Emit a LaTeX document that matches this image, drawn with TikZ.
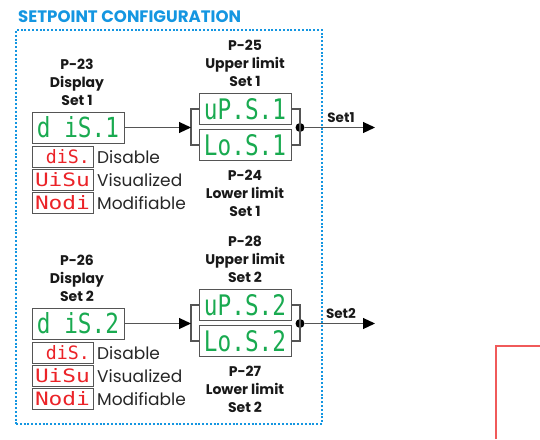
\documentclass[tikz,border=0pt]{standalone}
\usepackage{fontspec}
\setmainfont{Poppins}
\newfontfamily\dispfont{DejaVu Sans Mono}
\usetikzlibrary{arrows.meta}
\definecolor{tblue}{RGB}{20,150,225}
\definecolor{sgreen}{RGB}{25,170,80}
\definecolor{sred}{RGB}{235,35,40}
\definecolor{lred}{RGB}{240,90,90}
\definecolor{lgray}{RGB}{85,85,85}
\tikzset{
  gdisp/.style={draw=lgray, line width=1pt, minimum width=92pt, minimum height=31pt, inner sep=0pt, text=sgreen},
  rdisp/.style={draw=lgray, line width=1pt, minimum width=61pt, minimum height=21pt, inner sep=0pt, text=sred},
  blabel/.style={align=center, font=\bfseries\fontsize{14}{18}\selectfont, text=black!90},
  rlabel/.style={anchor=west, font=\fontsize{17}{18}\selectfont, text=black!85, inner sep=0pt},
  conn/.style={draw=lgray, line width=1.1pt},
  arr/.style={conn, -{Triangle[length=12pt,width=11pt,fill=black,color=black]}},
}
\newcommand{\gtxt}[1]{\resizebox{82pt}{21pt}{\dispfont #1}}
\newcommand{\rtxt}[1]{\resizebox{55pt}{14pt}{\dispfont #1}}
\begin{document}
\begin{tikzpicture}[x=1pt,y=-1pt]
\useasboundingbox (0,0) rectangle (540,439);
\node[anchor=west, inner sep=0pt, text=tblue, font=\bfseries\fontsize{16.6}{18}\selectfont] (title) at (18,17) {SETPOINT CONFIGURATION};
\node[draw=tblue, line width=2pt, dash pattern=on 2pt off 1.8pt, minimum width=306pt, minimum height=394pt, inner sep=0pt] (frame) at (169,227) {};

\foreach \o/\s/\pa/\pb/\pc in {0/1/23/25/24, 196/2/26/28/27}{
  \begin{scope}[yshift=-\o pt]
  \node[blabel] (lab\s) at (77,82) {P-\pa\\Display\\Set \s};
  \node[gdisp] (d\s) at (78,127.5) {\gtxt{d iS.\s}};
  \node[rdisp] (r1\s) at (62.5,156.5) {\rtxt{\phantom{d}diS.}};
  \node[rdisp] (r2\s) at (62.5,179.5) {\rtxt{UiSu}};
  \node[rdisp] (r3\s) at (62.5,203) {\rtxt{Nodi}};
  \node[rlabel] (t1\s) at (97,157) {Disable};
  \node[rlabel] (t2\s) at (97,180) {Visualized};
  \node[rlabel] (t3\s) at (97,203.5) {Modifiable};
  \node[blabel] (up\s) at (245,63) {P-\pb\\Upper limit\\Set \s};
  \node[gdisp] (u\s) at (245,109) {\gtxt{uP.S.\s}};
  \node[gdisp] (l\s) at (245,145) {\gtxt{Lo.S.\s}};
  \node[blabel] (lo\s) at (245,193.5) {P-\pc\\Lower limit\\Set \s};
  \coordinate (bl\s) at (191,127.5);
  \node[circle, fill=black, inner sep=0pt, minimum size=9pt] (dot\s) at (300,127.5) {};
  \coordinate (out\s) at (375,127.5);
  \draw[conn] (u\s.west) -| (bl\s) |- (l\s.west);
  \draw[conn] (u\s.east) -| (dot\s.center) |- (l\s.east);
  \draw[arr] (d\s.east) -- (bl\s);
  \draw[arr] (dot\s) -- (out\s);
  \node[font=\bfseries\fontsize{13.5}{14}\selectfont, text=black!90, inner sep=0pt] (set\s) at (341,118) {Set\s};
  \end{scope}
}
\coordinate (ra) at (496,439);
\coordinate (rb) at (496,346);
\coordinate (rc) at (540,346);
\draw[lred, line width=1.2pt] (ra) -- (rb) -- (rc);
\end{tikzpicture}
\end{document}
